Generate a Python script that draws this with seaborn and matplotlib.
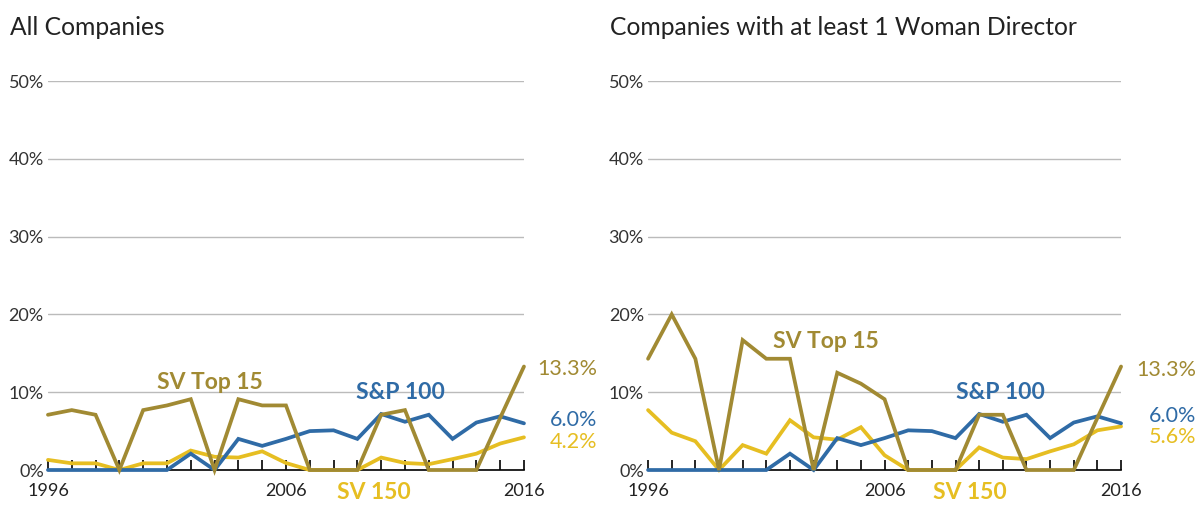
import matplotlib
matplotlib.use("Agg")
import matplotlib.pyplot as plt
import seaborn as sns
import pandas as pd
import numpy as np

years = list(range(1996, 2017))

# All Companies (percent)
all_sv_top15 = [7.1, 7.7, 7.1, 0, 7.7, 8.3, 9.1, 0, 9.1, 8.3, 8.3, 0, 0, 0, 7.1, 7.7, 0, 0, 0, 6.7, 13.3]
all_sp100 = [0, 0, 0, 0, 0, 0, 2.1, 0, 4.0, 3.1, 4.0, 5.0, 5.1, 4.0, 7.2, 6.2, 7.1, 4.0, 6.1, 6.9, 6.0]
all_sv150 = [1.3, 0.86, 0.86, 0, 0.86, 0.86, 2.5, 1.7, 1.6, 2.4, 0.9, 0, 0, 0, 1.6, 0.9, 0.75, 1.4, 2.1, 3.4, 4.2]

# Companies with at least 1 woman director (percent)
w_sv_top15 = [14.3, 20.0, 14.3, 0, 16.7, 14.3, 14.3, 0, 12.5, 11.1, 9.1, 0, 0, 0, 7.1, 7.1, 0, 0, 0, 6.7, 13.3]
w_sp100 = [0, 0, 0, 0, 0, 0, 2.1, 0, 4.1, 3.2, 4.1, 5.1, 5.0, 4.1, 7.2, 6.2, 7.1, 4.1, 6.1, 6.9, 6.0]
w_sv150 = [7.7, 4.8, 3.7, 0, 3.2, 2.1, 6.4, 4.2, 3.9, 5.5, 1.9, 0, 0, 0, 2.9, 1.6, 1.4, 2.4, 3.3, 5.1, 5.6]

series_names = ["SV 150", "S&P 100", "SV Top 15"]
end_labels_all = ["4.2%", "6.0%", "13.3%"]
end_labels_w = ["5.6%", "6.0%", "13.3%"]
titles = ["All Companies", "Companies with at least 1 Woman Director"]
ytick_vals = [0, 10, 20, 30, 40, 50]
ytick_labels = ["0%", "10%", "20%", "30%", "40%", "50%"]
xtick_labels = {1996: "1996", 2006: "2006", 2016: "2016"}

colors = {"SV 150": "#E6BE22", "S&P 100": "#2F6BA6", "SV Top 15": "#A18A33"}

sns.set_style("white")
plt.rcParams['font.family'] = ['Lato', 'DejaVu Sans']

def make_df(a, b, c):
    rows = []
    for name, vals in zip(series_names, [a, b, c]):
        for y, v in zip(years, vals):
            rows.append({"year": y, "value": v, "series": name})
    return pd.DataFrame(rows)

fig = plt.figure(figsize=(11.99, 5.05), dpi=100)
ax1 = fig.add_axes([0.040, 0.0693, 0.397, 0.7703])
ax2 = fig.add_axes([0.5405, 0.0693, 0.3945, 0.7703])

panels = [
    (ax1, make_df(all_sv150, all_sp100, all_sv_top15), end_labels_all,
     [(2002.8, 11.3), (2010.8, 9.9), (2009.7, -2.9)],
     [3.6, 6.4, 13.0], 2019.1, 0.0083),
    (ax2, make_df(w_sv150, w_sp100, w_sv_top15), end_labels_w,
     [(2003.5, 16.5), (2010.9, 9.9), (2009.6, -2.9)],
     [4.2, 6.9, 12.9], 2019.2, 0.509),
]

for i, (ax, df, elabels, name_pos, end_y, end_x, title_x) in enumerate(panels):
    sns.lineplot(data=df, x="year", y="value", hue="series", hue_order=series_names,
                 palette=colors, linewidth=2.7, legend=False, ax=ax)
    for ln in ax.get_lines():
        ln.set_clip_on(False)
        ln.set_zorder(3)
        ln.set_solid_joinstyle("miter")
    ax.set_xlim(1996, 2016)
    ax.set_ylim(0, 50)
    ax.set_yticks(ytick_vals)
    ax.set_yticklabels(ytick_labels, color="#333333", fontsize=13)
    ax.set_xticks(years)
    ax.set_xticklabels([xtick_labels.get(y, "") for y in years], color="#222222", fontsize=13)
    ax.tick_params(axis="x", bottom=True, direction="in", length=7, width=1.2,
                   color="black", pad=9)
    ax.tick_params(axis="y", left=False, length=0, pad=3)
    ax.grid(axis="y", color="#BBBBBB", linewidth=1)
    ax.grid(axis="x", visible=False)
    for s in ["top", "right", "left"]:
        ax.spines[s].set_visible(False)
    ax.spines["bottom"].set_color("black")
    ax.spines["bottom"].set_linewidth(1.2)
    ax.spines["bottom"].set_zorder(1)
    ax.set_axisbelow(True)
    ax.set_xlabel("")
    ax.set_ylabel("")
    name_order = ["SV Top 15", "S&P 100", "SV 150"]
    for nm, (px, py) in zip(name_order, name_pos):
        ax.text(px, py, nm, color=colors[nm], fontsize=16.5, fontweight="bold",
                ha="center", va="center", clip_on=False)
    for nm, lab, yy in zip(series_names, elabels, end_y):
        ax.text(end_x, yy, lab, color=colors[nm], fontsize=15.5, ha="right",
                va="center", clip_on=False)
    fig.text(title_x, 0.945, titles[i], fontsize=17.7, color="#222222", ha="left", va="center")

fig.savefig("out.png", dpi=100)
